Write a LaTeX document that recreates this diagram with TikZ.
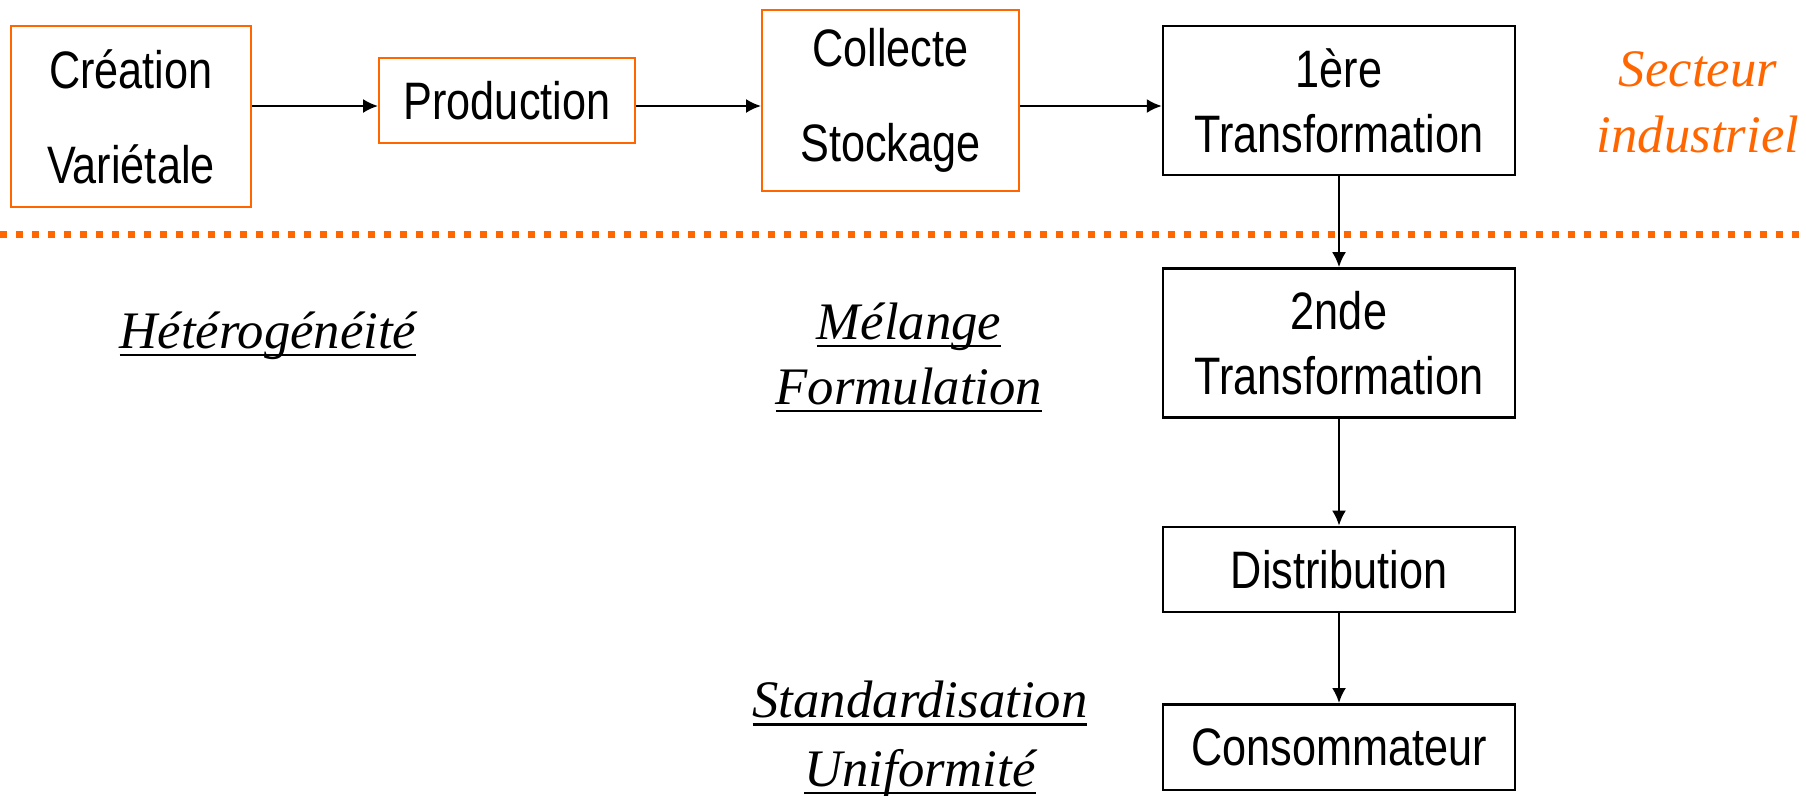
\documentclass[tikz,border=0pt]{standalone}
\usepackage{fontspec}
\setmainfont{Liberation Serif}
\newfontfamily\boxfont[FakeStretch=0.82]{Liberation Sans}
\usetikzlibrary{arrows.meta,positioning}
\definecolor{orangefil}{HTML}{FF6600}
\newcommand{\souligne}[1]{\setbox0\hbox{#1}\rlap{\rule[-4.6pt]{\wd0}{1.3pt}}\box0}

\begin{document}
\begin{tikzpicture}[
    x=0.02cm, y=-0.02cm,
    every node/.style={inner sep=0pt},
    boite/.style={draw, align=center, line width=1.4pt, font=\boxfont\fontsize{30}{37}\selectfont},
    boiteorange/.style={boite, draw=orangefil, line width=1.1pt},
    etiquette/.style={align=center, anchor=base, font=\itshape\fontsize{30}{37}\selectfont},
    flow/.style={-{Latex[length=0.3cm,width=0.28cm]}, line width=1.3pt},
    separation/.style={draw=orangefil, line width=0.14cm, dash pattern=on 0.14cm off 0.18cm}
]
\useasboundingbox (0,0) rectangle (1806,795);
% secteur industriel / reste de la filiere
\coordinate (gauche) at (0,234);
\coordinate (droite) at (1806,234);
\draw[separation] (gauche) -- (droite);

\node[boiteorange, font=\boxfont\fontsize{30}{54}\selectfont, minimum width=4.8cm, minimum height=3.62cm] (crea) at (131,116.5) {Création\\Variétale};
\node[boiteorange, minimum width=5.12cm, minimum height=1.7cm] (prod) at (507,100.5) {Production};
\node[boiteorange, font=\boxfont\fontsize{30}{54}\selectfont, minimum width=5.14cm, minimum height=3.62cm] (coll) at (890.5,100.5) {Collecte\\Stockage};
\node[boite, minimum width=7.04cm, minimum height=2.98cm] (tr1) at (1339,100.5) {1ère\\Transformation};
\node[boite, minimum width=7.04cm, minimum height=2.98cm, below=1.82cm of tr1] (tr2) {2nde\\Transformation};
\node[boite, minimum width=7.04cm, minimum height=1.7cm, below=2.14cm of tr2] (dist) {Distribution};
\node[boite, minimum width=7.04cm, minimum height=1.72cm, below=1.8cm of dist] (cons) {Consommateur};

% base = derniere ligne
\node[etiquette] (hetero) at (268,348) {\souligne{Hétérogénéité}};
\node[etiquette] (melange) at (909,404) {\souligne{Mélange}\\\souligne{Formulation}};
\node[etiquette, font=\itshape\fontsize{30}{39}\selectfont] (standard) at (920,786) {\souligne{Standardisation}\\\souligne{Uniformité}};
\node[etiquette, text=orangefil] (secteur) at (1698,152) {Secteur\\industriel};

\draw[flow, transform canvas={yshift=-0.11cm}] (crea.east |- prod.west) -- (prod.west);
\draw[flow, transform canvas={yshift=-0.11cm}] (prod) -- (coll);
\draw[flow, transform canvas={yshift=-0.11cm}] (coll) -- (tr1);
\draw[flow] (tr1) -- (tr2);
\draw[flow] (tr2) -- (dist);
\draw[flow] (dist) -- (cons);
\end{tikzpicture}
\end{document}
